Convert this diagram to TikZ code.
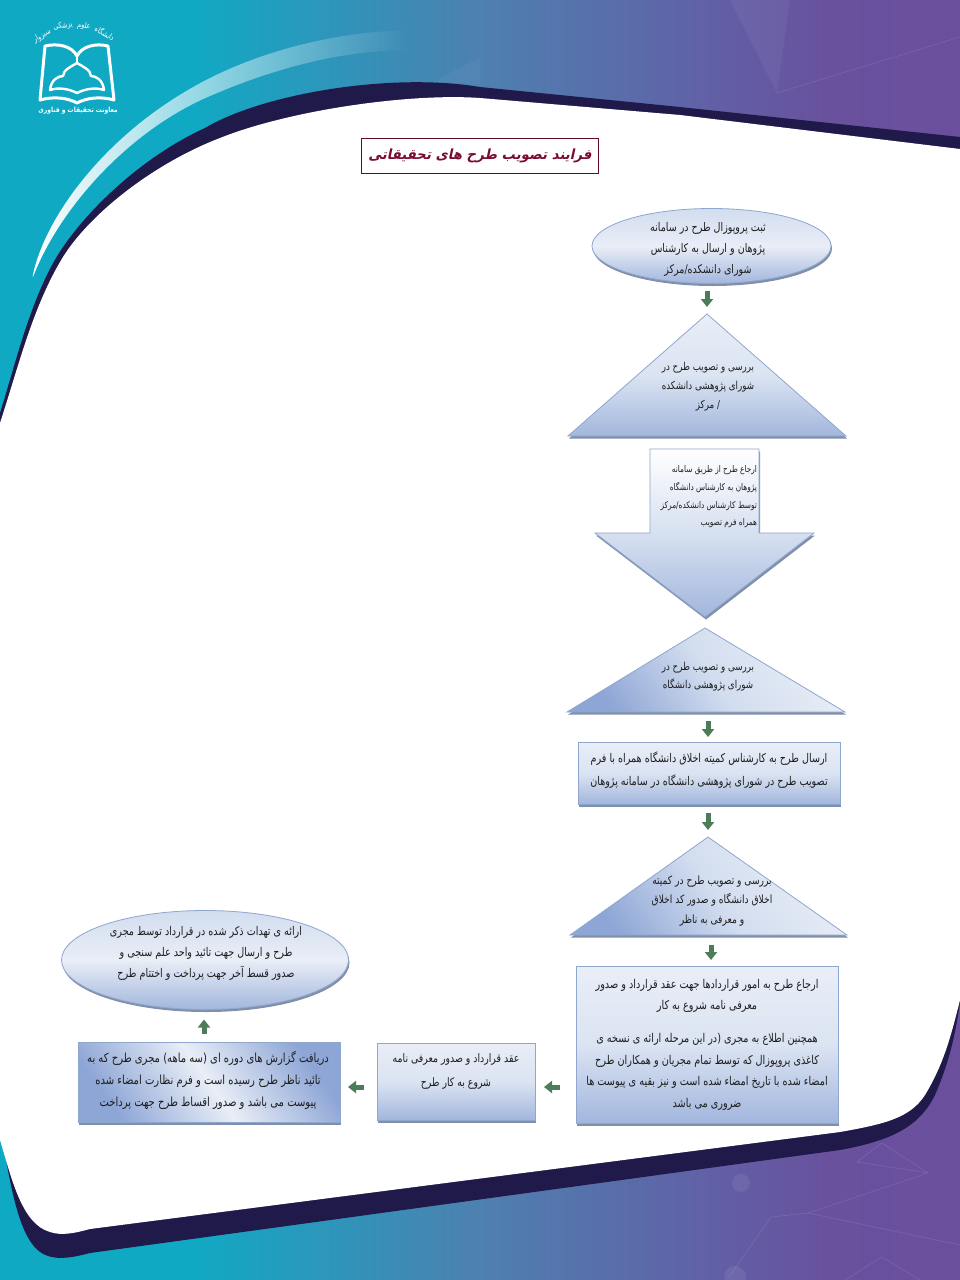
\documentclass[tikz,border=0pt]{standalone}
\usepackage{fontspec}
\usetikzlibrary{arrows.meta,shadows,fadings,shapes.geometric}
\TeXXeTstate=1
\newfontfamily\arabicfont[Script=Arabic,FakeStretch=0.8]{DejaVu Sans}
\newfontfamily\arabicbold[Script=Arabic,FakeStretch=0.95,FakeSlant=0.22]{DejaVu Sans Bold}
\newfontfamily\arabiclogo[Script=Arabic,FakeStretch=0.85]{DejaVu Sans Bold}
\newcommand{\rl}[1]{\beginR #1\endR}
\definecolor{navyband}{HTML}{1F1A4A}
\definecolor{flowgreen}{HTML}{4C7C58}
\definecolor{edgeblue}{HTML}{8FA6CF}
\definecolor{shadowgray}{HTML}{8090A8}
\definecolor{ink}{HTML}{1E1E1E}
\definecolor{titlered}{HTML}{7A0B32}
\definecolor{skyA}{HTML}{D2DDEF}
\definecolor{skyB}{HTML}{E9EEF7}
\definecolor{skyC}{HTML}{A2B6DD}
\definecolor{skyD}{HTML}{8EA6D6}
\definecolor{bgA}{HTML}{10A9C4}
\definecolor{bgB}{HTML}{4E80B0}
\definecolor{bgC}{HTML}{6160A6}
\definecolor{bgD}{HTML}{69519E}
\definecolor{bgE}{HTML}{6A4F9D}
\pgfdeclarehorizontalshading{bgsh}{100bp}{
 color(0bp)=(bgA); color(25bp)=(bgA); color(35bp)=(bgA); color(50bp)=(bgB); color(62bp)=(bgC); color(68bp)=(bgD); color(75bp)=(bgE); color(100bp)=(bgE)}
\tikzfading[name=arcfade,left color=transparent!0,middle color=transparent!60,right color=transparent!100]
\tikzset{
 every node/.style={inner sep=0pt,outer sep=0pt,text=ink},
 softshadow/.style={drop shadow={shadow xshift=1pt,shadow yshift=-2.5pt,fill=shadowgray,opacity=1}},
 flowshape/.style={draw=edgeblue,line width=.8pt,softshadow},
 vgrad/.style={top color=skyB,bottom color=skyC,middle color=skyA!80!white},
 ellgrad/.style={top color=skyA,bottom color=skyC,middle color=skyB},
 diagA/.style={left color=skyD,right color=skyB,middle color=skyA,shading angle=125},
 diagB/.style={left color=skyD,right color=skyD,middle color=skyB,shading angle=125},
 flow/.style={draw=flowgreen,line width=5pt,-{Triangle[length=8pt,width=12pt]}},
 linetxt/.style 2 args={align=center,font=\arabicfont\fontsize{#1}{#2}\selectfont},
 logotxt/.style={text=white,font=\arabicfont\fontsize{8}{8}\selectfont},
 logoline/.style={draw=white,line width=3pt,line join=round,line cap=round},
 faintline/.style={draw=white,opacity=.1,line width=.7pt}
}
\begin{document}
\begin{tikzpicture}[x=1pt,y=-1pt]
\useasboundingbox (0,0) rectangle (960,1280);
% background
\shade[shading=bgsh] (0,0) rectangle (960,1280);
\fill[white,opacity=.05] (730,0) -- (790,0) -- (777,93) -- cycle;
\fill[white,opacity=.04] (480,57) -- (433,82) -- (480,84) -- cycle;
\draw[faintline] (777,93) -- (960,37);
\draw[faintline] (857,1162) -- (928,1173) -- (882,1143) -- cycle;
\draw[faintline] (928,1173) -- (808,1213) -- (960,1245);
\draw[faintline] (808,1213) -- (771,1217) -- (729,1277);
\draw[faintline] (882,1257) -- (845,1280);
\draw[faintline] (882,1257) -- (920,1280);
\fill[white,opacity=.07] (741,1183) circle (9);
\fill[white,opacity=.07] (735,1277) circle (11);
% highlight arc
\fill[white,path fading=arcfade]
 (33,275) .. controls (45,217) and (107,130) .. (210,78) .. controls (270,48) and (340,32) .. (407,30)
 -- (407,50) .. controls (340,50) and (270,70) .. (210,96) .. controls (130,130) and (60,207) .. (33,277) -- cycle;
% navy band
\fill[navyband]
 (0,413) .. controls (15,365) and (28,310) .. (52,265) .. controls (75,222) and (135,160) .. (205,128) .. controls (262,94) and (390,72) .. (480,87)
 -- (680,107) -- (960,137) -- (960,1003)
 .. controls (955,1035) and (950,1060) .. (935,1095) .. controls (920,1125) and (895,1140) .. (840,1150)
 -- (90,1253) .. controls (75,1257) and (60,1260) .. (48,1256) .. controls (22,1248) and (12,1200) .. (0,1123) -- cycle;
% white page
\fill[white]
 (0,423) .. controls (18,368) and (32,310) .. (60,262) .. controls (85,218) and (150,165) .. (220,138) .. controls (290,110) and (410,93) .. (480,98)
 -- (680,115) -- (960,149) -- (960,1000)
 .. controls (950,1040) and (943,1065) .. (925,1095) .. controls (910,1118) and (885,1124) .. (840,1132)
 -- (90,1229) .. controls (75,1233) and (62,1236) .. (50,1232) .. controls (22,1224) and (12,1180) .. (0,1140) -- cycle;
% logo
\draw[logoline] (45,46) .. controls (58,43) and (72,46) .. (77,56) .. controls (82,46) and (96,43) .. (108,46) -- (114,100) .. controls (100,96) and (86,98) .. (77,103) .. controls (68,98) and (54,96) .. (40,100) -- cycle;
\draw[logoline,line width=2pt] (77,56) -- (77,63);
\draw[logoline,line width=2.4pt] (50,90) .. controls (51,80) and (58,76) .. (63,76) .. controls (63,70) and (72,66) .. (77,63) .. controls (82,66) and (91,70) .. (91,76) .. controls (96,76) and (103,80) .. (104,90) .. controls (95,87) and (85,89) .. (77,93) .. controls (69,89) and (59,87) .. (50,90) -- cycle;
\node[logotxt,rotate=-30] (logoa) at (105,33) {\rl{دانشگاه}};
\node[logotxt,rotate=-8] (logob) at (84,26) {\rl{علوم}};
\node[logotxt,rotate=8] (logoc) at (63,26) {\rl{پزشکی}};
\node[logotxt,rotate=30] (logod) at (42,36) {\rl{سبزوار}};
\node[text=white,font=\arabiclogo\fontsize{7.1}{7.1}\selectfont] (logoe) at (78,111) {\rl{معاونت تحقیقات و فناوری}};
% title
\node[draw=titlered!80!black,line width=.7pt,fill=white,minimum width=237pt,minimum height=35pt,text=titlered,font=\arabicbold\fontsize{14}{14}\selectfont] (title) at (480,156) {\rl{فرایند تصویب طرح های تحقیقاتی}};
% ellipse 1
\node[ellipse,flowshape,ellgrad,minimum width=239pt,minimum height=75pt] (e1) at (711.5,246) {};
\node[linetxt={11.9}{21}] (e1t) at (708,249.5) {\rl{ثبت پروپوزال طرح در سامانه}\\\rl{پژوهان و ارسال به کارشناس}\\\rl{شورای دانشکده/مرکز}};
% triangle 1
\path[flowshape,vgrad] (707,314) coordinate (t1top) -- (846,436) coordinate (t1r) -- (568,436) coordinate (t1l) -- cycle;
\node[linetxt={10.9}{19}] (t1t) at (708,387) {\rl{بررسی و تصویب طرح در}\\\rl{شورای پژوهشی دانشکده}\\\rl{/ مرکز}};
% big arrow
\path[flowshape,top color=white,bottom color=skyC,middle color=skyA!90!white] (650,449) coordinate (baTL) -- (759,449) -- (759,533) -- (814,533) -- (705,617) coordinate (baTip) -- (595,533) -- (650,533) -- cycle;
\node[align=right,font=\arabicfont\fontsize{9.2}{17.7}\selectfont,anchor=east] (bat) at (757,497) {\rl{ارجاع طرح از طریق سامانه}\\\rl{پژوهان به کارشناس دانشگاه}\\\rl{توسط کارشناس دانشکده/مرکز}\\\rl{همراه فرم تصویب}};
% triangle 2
\path[flowshape,diagA] (705,628) coordinate (t2top) -- (845,712) coordinate (t2r) -- (567,712) coordinate (t2l) -- cycle;
\node[linetxt={10.9}{18}] (t2t) at (708,677) {\rl{بررسی و تصویب طرح در}\\\rl{شورای پژوهشی دانشگاه}};
\coordinate (t2b) at (708,712);
% box 1
\node[rectangle,flowshape,vgrad,minimum width=262pt,minimum height=62pt] (b1) at (709,773) {};
\node[linetxt={12}{23}] (b1t) at (709,770.5) {\rl{ارسال طرح به کارشناس کمیته اخلاق دانشگاه همراه با فرم}\\\rl{تصویب طرح در شورای پژوهشی دانشگاه در سامانه پژوهان}};
% triangle 3
\path[flowshape,diagA] (708,837) coordinate (t3top) -- (847,935) coordinate (t3r) -- (570,935) coordinate (t3l) -- cycle;
\node[linetxt={11.4}{19.5}] (t3t) at (712,901) {\rl{بررسی و تصویب طرح در کمیته}\\\rl{اخلاق دانشگاه و صدور کد اخلاق}\\\rl{و معرفی به ناظر}};
\coordinate (t3b) at (711,935);
% box 2
\node[rectangle,flowshape,vgrad,minimum width=262pt,minimum height=157pt] (b2) at (707,1044.5) {};
\node[linetxt={12.1}{21.5}] (b2t) at (707,1044.5) {\rl{ارجاع طرح به امور قراردادها جهت عقد قرارداد و صدور}\\\rl{معرفی نامه شروع به کار}\\[11.5pt]\rl{همچنین اطلاع به مجری  (در این مرحله ارائه ی نسخه ی}\\\rl{کاغذی پروپوزال که توسط تمام مجریان و همکاران طرح}\\\rl{امضاء شده با تاریخ امضاء شده است و نیز بقیه ی پیوست ها}\\\rl{ضروری می باشد}};
% box 3
\node[rectangle,flowshape,vgrad,minimum width=158pt,minimum height=77pt] (b3) at (456,1081.5) {};
\node[linetxt={11.7}{24}] (b3t) at (456,1071.5) {\rl{عقد قرارداد و صدور معرفی نامه}\\\rl{شروع به کار طرح}};
% box 4
\node[rectangle,flowshape,diagB,minimum width=262pt,minimum height=80pt] (b4) at (209,1082) {};
\node[linetxt={12.5}{22}] (b4t) at (208,1080.5) {\rl{دریافت گزارش های دوره ای (سه ماهه) مجری طرح که به}\\\rl{تائید ناظر طرح رسیده است و فرم نظارت امضاء شده}\\\rl{پیوست می باشد و صدور اقساط طرح جهت پرداخت}};
% ellipse 2
\node[ellipse,flowshape,ellgrad,minimum width=287pt,minimum height=99pt] (e2) at (205,960) {};
\node[linetxt={12}{21}] (e2t) at (206,953) {\rl{ارائه ی تهدات ذکر شده در قرارداد توسط مجری}\\\rl{طرح و ارسال جهت تائید واحد علم سنجی و}\\\rl{صدور قسط آخر جهت پرداخت و اختتام طرح}};
% connectors
\draw[flow,shorten <=7pt,shorten >=7pt] (t1top |- e1.south) -- (t1top);
\draw[flow,shorten <=9pt,shorten >=5pt] (t2b) -- (t2b |- b1.north);
\draw[flow,shorten <=9pt,shorten >=7pt] (t3top |- b1.south) -- (t3top);
\draw[flow,shorten <=10pt,shorten >=6pt] (t3b) -- (t3b |- b2.north);
\draw[flow,shorten <=16pt,shorten >=9pt] (b2.west |- b3.east) ++(0,5.5) coordinate (arr5s) -- (b3.east |- arr5s);
\draw[flow,shorten <=13pt,shorten >=8pt] (b3.west |- arr5s) -- (b4.east |- arr5s);
\draw[flow,shorten <=8pt,shorten >=10pt] (b4.north) ++(-5,0) coordinate (arr7s) -- (arr7s |- e2.south);
\end{tikzpicture}
\end{document}
